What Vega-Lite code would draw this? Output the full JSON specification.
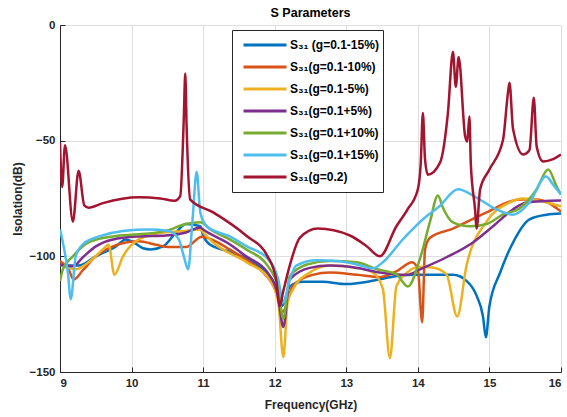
{
  "$schema": "https://vega.github.io/schema/vega-lite/v6.json",
  "width": 501,
  "height": 347,
  "autosize": {"type": "none"},
  "padding": {"left": 60, "top": 25, "right": 6, "bottom": 45},
  "background": "white",
  "title": {"text": "S Parameters", "fontSize": 12.5, "fontWeight": "bold", "font": "Liberation Sans", "color": "#000000", "offset": 0, "anchor": "middle"},
  "config": {
    "font": "Liberation Sans",
    "view": {"stroke": null},
    "axis": {
      "labelFont": "Liberation Sans", "labelFontWeight": "bold", "labelFontSize": 11.5, "labelColor": "#262626",
      "titleFont": "Liberation Sans", "titleFontWeight": "bold", "titleFontSize": 12, "titleColor": "#262626",
      "domainColor": "#262626", "domainWidth": 1, "tickColor": "#262626", "tickSize": -5,
      "gridColor": "#dedede", "gridWidth": 1
    }
  },
  "data": {"values": [
    {"s":"b","f":9.0,"y":-104},{"s":"b","f":9.26,"y":-104},{"s":"b","f":9.5,"y":-100},{"s":"b","f":9.78,"y":-95.7},{"s":"b","f":9.92,"y":-92.7},{"s":"b","f":10.03,"y":-94},{"s":"b","f":10.16,"y":-96.5},{"s":"b","f":10.27,"y":-97},{"s":"b","f":10.44,"y":-95.7},{"s":"b","f":10.62,"y":-89.7},{"s":"b","f":10.76,"y":-86},{"s":"b","f":10.96,"y":-87},{"s":"b","f":11.0,"y":-91},{"s":"b","f":11.1,"y":-95},{"s":"b","f":11.37,"y":-98},{"s":"b","f":11.61,"y":-101},{"s":"b","f":11.84,"y":-106},{"s":"b","f":12.03,"y":-114},{"s":"b","f":12.1,"y":-121.5},{"s":"b","f":12.21,"y":-113},{"s":"b","f":12.39,"y":-111},{"s":"b","f":12.67,"y":-111},{"s":"b","f":13.0,"y":-112},{"s":"b","f":13.33,"y":-110.8},{"s":"b","f":13.61,"y":-109},{"s":"b","f":13.93,"y":-108},{"s":"b","f":14.03,"y":-108},{"s":"b","f":14.49,"y":-108},{"s":"b","f":14.68,"y":-110.6},{"s":"b","f":14.82,"y":-117},{"s":"b","f":14.91,"y":-126},{"s":"b","f":14.95,"y":-135},{"s":"b","f":15.0,"y":-121.5},{"s":"b","f":15.15,"y":-107},{"s":"b","f":15.33,"y":-94},{"s":"b","f":15.56,"y":-84},{"s":"b","f":15.8,"y":-82},{"s":"b","f":16.0,"y":-81.5},
    {"s":"o","f":9.0,"y":-102},{"s":"o","f":9.12,"y":-105.6},{"s":"o","f":9.19,"y":-110},{"s":"o","f":9.32,"y":-106},{"s":"o","f":9.5,"y":-100},{"s":"o","f":9.74,"y":-95.7},{"s":"o","f":9.92,"y":-94},{"s":"o","f":10.1,"y":-93.5},{"s":"o","f":10.34,"y":-95},{"s":"o","f":10.52,"y":-96},{"s":"o","f":10.76,"y":-96},{"s":"o","f":10.98,"y":-91.5},{"s":"o","f":11.1,"y":-92.5},{"s":"o","f":11.37,"y":-97},{"s":"o","f":11.6,"y":-101.5},{"s":"o","f":11.84,"y":-107},{"s":"o","f":12.03,"y":-116},{"s":"o","f":12.11,"y":-124},{"s":"o","f":12.25,"y":-113},{"s":"o","f":12.53,"y":-108},{"s":"o","f":12.77,"y":-107},{"s":"o","f":13.15,"y":-108},{"s":"o","f":13.47,"y":-109},{"s":"o","f":13.7,"y":-106.5},{"s":"o","f":13.92,"y":-102.6},{"s":"o","f":14.0,"y":-105.6},{"s":"o","f":14.06,"y":-128.5},{"s":"o","f":14.1,"y":-97},{"s":"o","f":14.17,"y":-92},{"s":"o","f":14.49,"y":-88},{"s":"o","f":14.96,"y":-81},{"s":"o","f":15.42,"y":-75.4},{"s":"o","f":15.66,"y":-75.4},{"s":"o","f":16.0,"y":-80.6},
    {"s":"y","f":9.0,"y":-103.5},{"s":"y","f":9.22,"y":-105.6},{"s":"y","f":9.4,"y":-102.6},{"s":"y","f":9.6,"y":-97},{"s":"y","f":9.68,"y":-95},{"s":"y","f":9.76,"y":-108},{"s":"y","f":9.88,"y":-100},{"s":"y","f":10.1,"y":-92.7},{"s":"y","f":10.44,"y":-89.7},{"s":"y","f":10.76,"y":-89},{"s":"y","f":10.96,"y":-88.4},{"s":"y","f":11.0,"y":-89.7},{"s":"y","f":11.14,"y":-94},{"s":"y","f":11.61,"y":-102.6},{"s":"y","f":11.93,"y":-110},{"s":"y","f":12.05,"y":-120},{"s":"y","f":12.12,"y":-143.5},{"s":"y","f":12.18,"y":-120},{"s":"y","f":12.26,"y":-114},{"s":"y","f":12.49,"y":-107},{"s":"y","f":12.77,"y":-104},{"s":"y","f":13.15,"y":-105},{"s":"y","f":13.37,"y":-107},{"s":"y","f":13.51,"y":-114},{"s":"y","f":13.61,"y":-144},{"s":"y","f":13.7,"y":-113},{"s":"y","f":13.85,"y":-107},{"s":"y","f":14.03,"y":-104.5},{"s":"y","f":14.2,"y":-104.8},{"s":"y","f":14.4,"y":-107.8},{"s":"y","f":14.55,"y":-126},{"s":"y","f":14.68,"y":-104},{"s":"y","f":14.96,"y":-85},{"s":"y","f":15.28,"y":-76.7},{"s":"y","f":15.47,"y":-75},{"s":"y","f":15.8,"y":-76.7},{"s":"y","f":16.0,"y":-78.4},
    {"s":"p","f":9.0,"y":-103.5},{"s":"p","f":9.18,"y":-104.3},{"s":"p","f":9.32,"y":-100.4},{"s":"p","f":9.5,"y":-95.7},{"s":"p","f":9.74,"y":-92.7},{"s":"p","f":10.1,"y":-91.4},{"s":"p","f":10.48,"y":-91},{"s":"p","f":10.76,"y":-89.7},{"s":"p","f":10.96,"y":-87.5},{"s":"p","f":11.0,"y":-88.4},{"s":"p","f":11.37,"y":-94.8},{"s":"p","f":11.6,"y":-100},{"s":"p","f":11.9,"y":-107},{"s":"p","f":12.05,"y":-118},{"s":"p","f":12.12,"y":-130.6},{"s":"p","f":12.21,"y":-110},{"s":"p","f":12.49,"y":-105},{"s":"p","f":12.77,"y":-104},{"s":"p","f":13.15,"y":-105},{"s":"p","f":13.47,"y":-107},{"s":"p","f":13.85,"y":-108},{"s":"p","f":14.03,"y":-105.6},{"s":"p","f":14.4,"y":-100.4},{"s":"p","f":14.77,"y":-94},{"s":"p","f":15.05,"y":-87},{"s":"p","f":15.33,"y":-79.7},{"s":"p","f":15.52,"y":-76.7},{"s":"p","f":16.0,"y":-75.9},
    {"s":"g","f":9.0,"y":-110.8},{"s":"g","f":9.04,"y":-105.6},{"s":"g","f":9.18,"y":-100},{"s":"g","f":9.4,"y":-94},{"s":"g","f":9.74,"y":-91.4},{"s":"g","f":10.1,"y":-90.5},{"s":"g","f":10.48,"y":-89},{"s":"g","f":10.76,"y":-86},{"s":"g","f":10.96,"y":-85.3},{"s":"g","f":11.1,"y":-88.4},{"s":"g","f":11.37,"y":-92.7},{"s":"g","f":11.6,"y":-97},{"s":"g","f":11.9,"y":-104},{"s":"g","f":12.05,"y":-114},{"s":"g","f":12.12,"y":-127},{"s":"g","f":12.21,"y":-108.6},{"s":"g","f":12.45,"y":-103.5},{"s":"g","f":12.77,"y":-102},{"s":"g","f":13.15,"y":-102.6},{"s":"g","f":13.43,"y":-105.6},{"s":"g","f":13.7,"y":-107.8},{"s":"g","f":13.86,"y":-113},{"s":"g","f":14.03,"y":-101},{"s":"g","f":14.17,"y":-85},{"s":"g","f":14.28,"y":-73.7},{"s":"g","f":14.35,"y":-79},{"s":"g","f":14.49,"y":-85.3},{"s":"g","f":14.73,"y":-87},{"s":"g","f":14.96,"y":-86},{"s":"g","f":15.19,"y":-81.9},{"s":"g","f":15.42,"y":-79.3},{"s":"g","f":15.66,"y":-71},{"s":"g","f":15.82,"y":-62.5},{"s":"g","f":15.94,"y":-69.8},{"s":"g","f":16.0,"y":-73.3},
    {"s":"c","f":9.0,"y":-88.4},{"s":"c","f":9.04,"y":-94},{"s":"c","f":9.11,"y":-107},{"s":"c","f":9.15,"y":-118.5},{"s":"c","f":9.22,"y":-100},{"s":"c","f":9.32,"y":-94.8},{"s":"c","f":9.55,"y":-91.4},{"s":"c","f":9.88,"y":-89},{"s":"c","f":10.24,"y":-88.4},{"s":"c","f":10.52,"y":-89},{"s":"c","f":10.66,"y":-92.7},{"s":"c","f":10.73,"y":-100},{"s":"c","f":10.79,"y":-105.6},{"s":"c","f":10.85,"y":-85},{"s":"c","f":10.91,"y":-63.4},{"s":"c","f":10.96,"y":-81},{"s":"c","f":11.05,"y":-87},{"s":"c","f":11.37,"y":-91.4},{"s":"c","f":11.61,"y":-95.7},{"s":"c","f":11.9,"y":-101},{"s":"c","f":12.05,"y":-110},{"s":"c","f":12.12,"y":-120},{"s":"c","f":12.21,"y":-110},{"s":"c","f":12.3,"y":-104},{"s":"c","f":12.59,"y":-101.7},{"s":"c","f":12.87,"y":-102},{"s":"c","f":13.15,"y":-103.5},{"s":"c","f":13.37,"y":-105.2},{"s":"c","f":13.51,"y":-102.6},{"s":"c","f":13.79,"y":-92.7},{"s":"c","f":14.12,"y":-82.7},{"s":"c","f":14.3,"y":-78.4},{"s":"c","f":14.56,"y":-71},{"s":"c","f":14.82,"y":-74.6},{"s":"c","f":15.1,"y":-79.7},{"s":"c","f":15.33,"y":-82},{"s":"c","f":15.56,"y":-76.7},{"s":"c","f":15.79,"y":-65.5},{"s":"c","f":15.89,"y":-69},{"s":"c","f":16.0,"y":-73.3},
    {"s":"r","f":9.0,"y":-51},{"s":"r","f":9.03,"y":-70},{"s":"r","f":9.07,"y":-52},{"s":"r","f":9.18,"y":-85},{"s":"r","f":9.26,"y":-63},{"s":"r","f":9.34,"y":-78},{"s":"r","f":9.4,"y":-79},{"s":"r","f":9.6,"y":-77},{"s":"r","f":10.1,"y":-74.5},{"s":"r","f":10.4,"y":-75},{"s":"r","f":10.6,"y":-76},{"s":"r","f":10.68,"y":-74},{"s":"r","f":10.73,"y":-40},{"s":"r","f":10.75,"y":-21},{"s":"r","f":10.77,"y":-45},{"s":"r","f":10.82,"y":-75.5},{"s":"r","f":11.14,"y":-81},{"s":"r","f":11.6,"y":-91},{"s":"r","f":11.9,"y":-100},{"s":"r","f":12.02,"y":-110},{"s":"r","f":12.07,"y":-121.5},{"s":"r","f":12.12,"y":-115},{"s":"r","f":12.21,"y":-104},{"s":"r","f":12.35,"y":-92},{"s":"r","f":12.6,"y":-88},{"s":"r","f":13.05,"y":-91},{"s":"r","f":13.28,"y":-95.5},{"s":"r","f":13.47,"y":-100},{"s":"r","f":13.7,"y":-87},{"s":"r","f":13.85,"y":-80},{"s":"r","f":14.0,"y":-71},{"s":"r","f":14.04,"y":-60},{"s":"r","f":14.07,"y":-38},{"s":"r","f":14.1,"y":-58},{"s":"r","f":14.14,"y":-64.7},{"s":"r","f":14.31,"y":-59.5},{"s":"r","f":14.42,"y":-38},{"s":"r","f":14.49,"y":-11.6},{"s":"r","f":14.53,"y":-26.7},{"s":"r","f":14.57,"y":-13.8},{"s":"r","f":14.66,"y":-48},{"s":"r","f":14.69,"y":-50.4},{"s":"r","f":14.72,"y":-39.6},{"s":"r","f":14.74,"y":-60},{"s":"r","f":14.8,"y":-80},{"s":"r","f":14.82,"y":-88},{"s":"r","f":14.87,"y":-71},{"s":"r","f":15.0,"y":-62.5},{"s":"r","f":15.19,"y":-49.6},{"s":"r","f":15.26,"y":-29},{"s":"r","f":15.28,"y":-25},{"s":"r","f":15.33,"y":-45},{"s":"r","f":15.47,"y":-56},{"s":"r","f":15.56,"y":-54},{"s":"r","f":15.62,"y":-31.5},{"s":"r","f":15.66,"y":-52.5},{"s":"r","f":15.75,"y":-59},{"s":"r","f":15.89,"y":-58},{"s":"r","f":16.0,"y":-56}
  ]},
  "mark": {"type": "line", "strokeWidth": 2.5, "interpolate": "monotone", "clip": true},
  "encoding": {
    "x": {"field": "f", "type": "quantitative", "scale": {"domain": [9, 16], "nice": false}, "axis": {"title": "Frequency(GHz)", "values": [9,10,11,12,13,14,15,16], "labelPadding": 10, "titlePadding": 11}},
    "y": {"field": "y", "type": "quantitative", "scale": {"domain": [-150, 0], "nice": false}, "axis": {"title": "Isolation(dB)", "values": [0,-50,-100,-150], "labelPadding": 10, "titlePadding": 5}},
    "color": {"field": "s", "type": "nominal",
      "scale": {"domain": ["b","o","y","p","g","c","r"], "range": ["#0072BD","#D95319","#EDB120","#7E2F8E","#77AC30","#4DBEEE","#A2142F"]},
      "legend": {"title": null, "orient": "none", "legendX": 172, "legendY": 5,
        "labelExpr": "{'b':'S₃₁ (g=0.1-15%)','o':'S₃₁(g=0.1-10%)','y':'S₃₁(g=0.1-5%)','p':'S₃₁(g=0.1+5%)','g':'S₃₁(g=0.1+10%)','c':'S₃₁(g=0.1+15%)','r':'S₃₁(g=0.2)'}[datum.value]",
        "symbolType": "stroke", "symbolSize": 1849, "symbolStrokeWidth": 3, "symbolOffset": 6, "labelOffset": 2,
        "labelFont": "Liberation Sans", "labelFontWeight": "bold", "labelFontSize": 12, "labelColor": "#000000",
        "fillColor": "white", "strokeColor": "#262626", "padding": 4, "rowPadding": 0, "clipHeight": 22}
    },
    "order": {"field": "s"}
  }
}
